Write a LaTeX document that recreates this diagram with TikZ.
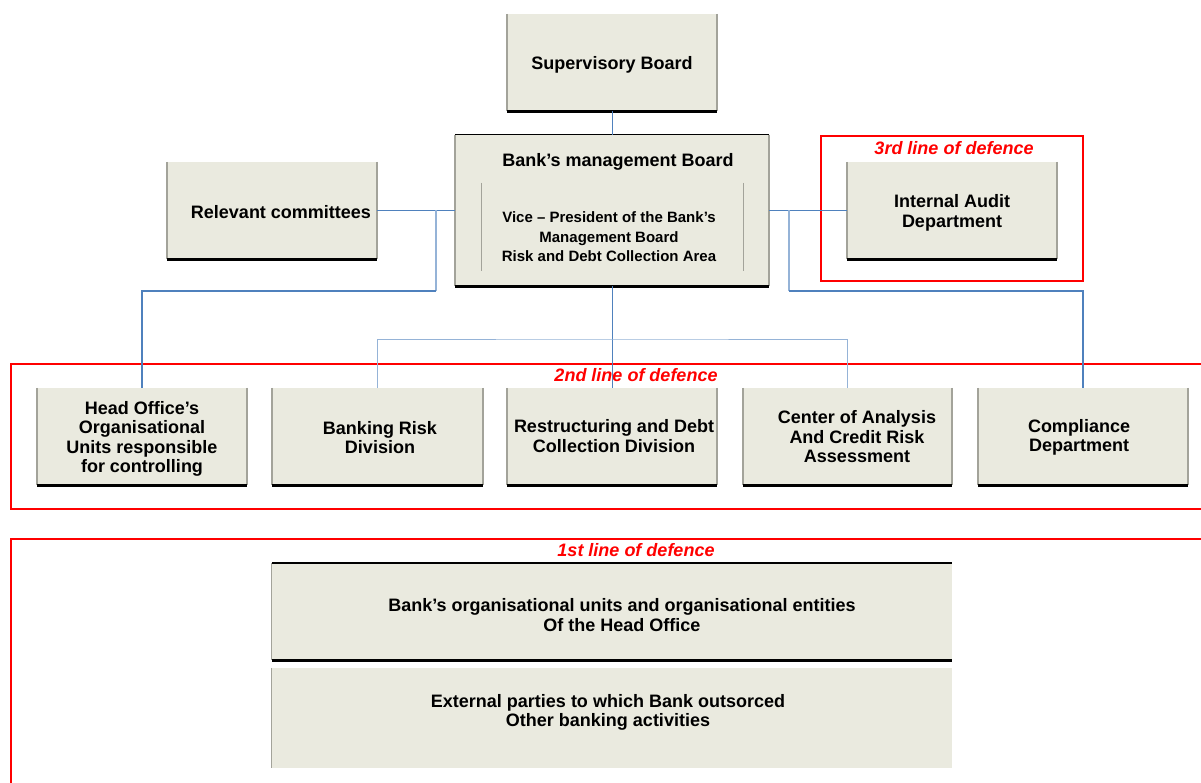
\documentclass[tikz,border=0pt]{standalone}
\usepackage{fontspec}
\setmainfont{Liberation Sans}
\definecolor{boxfill}{HTML}{EAEADF}
\definecolor{sidegrey}{HTML}{A3A39A}
\definecolor{connblue}{HTML}{4F81BD}
\definecolor{lightblue}{HTML}{95B3D7}
\definecolor{defred}{HTML}{FF0000}
\tikzset{
  unit/.style={fill=boxfill, inner sep=0pt, align=center,
    font=\fontsize{18}{19.5}\selectfont\bfseries},
  txt/.style={inner sep=0pt, align=center, font=\fontsize{18}{19.5}\selectfont\bfseries},
  vicetxt/.style={inner sep=0pt, align=center, font=\fontsize{15}{19.5}\selectfont\bfseries},
  deflabel/.style={inner sep=0pt, text=defred, font=\fontsize{18}{19.5}\selectfont\bfseries\itshape},
  defframe/.style={draw=defred, line width=2pt},
  side/.style={draw=sidegrey, line width=1.5pt},
  base/.style={draw=black, line width=3pt},
  conn/.style={draw=connblue, line width=1.2pt},
  connlight/.style={draw=lightblue, line width=1.2pt},
  connthick/.style={draw=connblue, line width=2.2pt}
}
\begin{document}
\begin{tikzpicture}[x=1pt,y=-1pt]
\useasboundingbox (0,0) rectangle (1201,783);
\clip (0,0) rectangle (1201,783);
\fill[white] (0,0) rectangle (1201,783);

% defence frames
\draw[defframe] (821,136) rectangle (1083,281);
\draw[defframe] (11,364) rectangle (1215,509);
\draw[defframe] (11,539) rectangle (1215,800);

% boxes
\node[unit, minimum width=210pt, minimum height=97pt] (sup) at (612,62.5) {};
\node[txt] (suptxt) at (612,64.5) {Supervisory Board};
\node[unit, minimum width=314pt, minimum height=151pt] (mgmt) at (612,210.5) {};
\node[txt] (mgmttitle) at (618,162) {Bank’s management Board};
\node[vicetxt] (vice) at (609,237) {Vice – President of the Bank’s\\Management Board\\Risk and Debt Collection Area};
\node[unit, minimum width=210pt, minimum height=97pt] (comm) at (272,210.5) {};
\node[txt] (commtxt) at (281,212) {Relevant committees};
\node[unit, minimum width=210pt, minimum height=97pt] (audit) at (952,210.5) {};
\node[txt] (audittxt) at (952,213) {Internal Audit\\Department};

\node[unit, minimum width=210pt, minimum height=97pt] (head) at (142,436.5) {};
\node[txt] (headtxt) at (142,439) {Head Office’s\\Organisational\\Units responsible\\for controlling};
\node[unit, minimum width=211pt, minimum height=97pt] (brisk) at (377.5,436.5) {};
\node[txt] (brisktxt) at (380,437.5) {Banking Risk\\Division};
\node[unit, minimum width=210pt, minimum height=97pt] (restr) at (612,436.5) {};
\node[txt] (restrtxt) at (614,436) {Restructuring and Debt\\Collection Division};
\node[unit, minimum width=209pt, minimum height=97pt] (cara) at (847.5,436.5) {};
\node[txt] (caratxt) at (857,437) {Center of Analysis\\And Credit Risk\\Assessment};
\node[unit, minimum width=210pt, minimum height=97pt] (compl) at (1083,436.5) {};
\node[txt] (compltxt) at (1079,437.5) {Compliance\\Department};

\node[unit, minimum width=680pt, minimum height=97pt] (units) at (612,611.5) {};
\node[txt] (unitstxt) at (622,615) {Bank’s organisational units and organisational entities\\Of the Head Office};
\node[unit, minimum width=680pt, minimum height=100pt] (ext) at (612,718) {};
\node[txt] (exttxt) at (608,712.5) {External parties to which Bank outsorced\\Other banking activities};

% box edges
\foreach \n in {sup,comm,audit,head,brisk,restr,cara,compl} {
  \draw[side] (\n.north west) -- (\n.south west) (\n.north east) -- (\n.south east);
  \draw[base] (\n.south west) -- (\n.south east);
}
\draw[side] (mgmt.north west) -- (mgmt.south west) (mgmt.north east) -- (mgmt.south east);
\draw[draw=black, line width=1pt] (mgmt.north west) -- (mgmt.north east);
\draw[base] (mgmt.south west) -- (mgmt.south east);
\draw[draw=sidegrey, line width=1pt] (481,183) -- (481,271) (743,183) -- (743,271);
\draw[side, line width=1pt] (units.north west) -- (units.south west) (ext.north west) -- (ext.south west);
\draw[draw=black, line width=2pt] (units.north west) -- (units.north east);
\draw[base] (units.south west) -- (units.south east);

% labels
\node[deflabel] (l3) at (954,148) {3rd line of defence};
\node[deflabel] (l2) at (636,375) {2nd line of defence};
\node[deflabel] (l1) at (636,550) {1st line of defence};

% connectors
\draw[conn, line width=1pt] (sup.south) -- (mgmt.north);
\draw[conn] (comm.east) -- (mgmt.west);
\draw[conn] (mgmt.east) -- (audit.west);
\coordinate (jl) at (436,210.5);
\coordinate (lbus) at (436,291);
\draw[connlight, line width=1.8pt] (jl) -- (lbus);
\draw[connthick] (lbus) -| (head.north);
\coordinate (jr) at (789,210.5);
\coordinate (rbus) at (789,291);
\draw[connlight, line width=2.2pt] (jr) -- (rbus);
\draw[connthick] (rbus) -| (compl.north);
\coordinate (tbus) at (612,339);
\draw[conn, line width=1pt] (mgmt.south) -- (restr.north);
\draw[connlight, line width=1pt] (brisk.north) |- (tbus) -| (cara.north);
\end{tikzpicture}
\end{document}
